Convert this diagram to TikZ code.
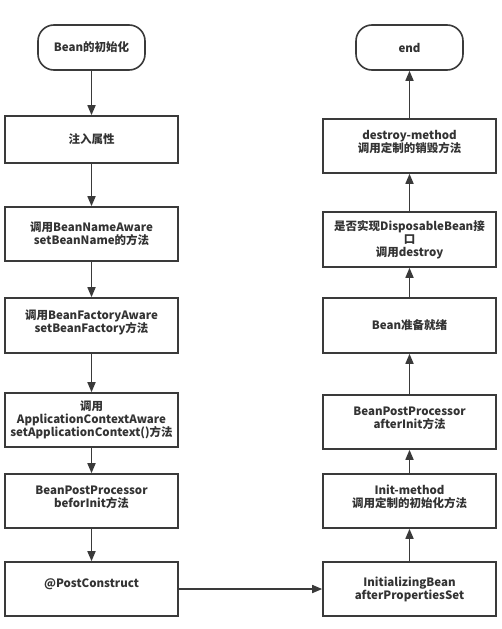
\documentclass[tikz,border=0pt]{standalone}
\usepackage{fontspec}
\setmainfont{Noto Sans CJK SC}
\usetikzlibrary{arrows.meta}
\definecolor{linec}{HTML}{3A3A3A}
\definecolor{textc}{HTML}{333333}
\begin{document}
\begin{tikzpicture}[x=1pt,y=-1pt,
  box/.style={draw=linec, line width=1.6pt, minimum width=173pt, minimum height=54pt,
    align=center, text=textc, font=\fontsize{11.5}{13}\selectfont\bfseries, inner sep=0pt},
  term/.style={box, minimum width=107pt, minimum height=45pt, rounded corners=16pt},
  flow/.style={draw=linec, line width=1.6pt, -{Triangle[length=10pt,width=8pt]}}]
\useasboundingbox[fill=white] (0,0) rectangle (501,629);
% left column
\node[term] (start) at (91.5,47.5) {Bean的初始化};
\node[box, minimum height=47pt] (b1) at (91.5,139.5) {注入属性};
\node[box] (b2) at (91.5,234) {调用BeanNameAware\\setBeanName的方法};
\node[box, minimum height=55pt] (b3) at (91.5,325.5) {调用BeanFactoryAware\\setBeanFactory方法\\[-4pt]};
\node[box] (b4) at (91.5,420) {调用\\ApplicationContextAware\\setApplicationContext()方法};
\node[box] (b5) at (91.5,501) {BeanPostProcessor\\beforInit方法\\[-4pt]};
\node[box] (b6) at (91.5,589) {@PostConstruct\\[-2pt]};
% right column
\node[term] (end) at (409.5,47.5) {end};
\node[box] (r1) at (409.5,146) {destroy-method\\调用定制的销毁方法\\[-4pt]};
\node[box, minimum height=55pt] (r2) at (409.5,239.5) {是否实现DisposableBean接\\口\\调用destroy};
\node[box, minimum height=55pt] (r3) at (409.5,325.5) {Bean准备就绪};
\node[box] (r4) at (409.5,422) {BeanPostProcessor\\afterInit方法\\[-4pt]};
\node[box] (r5) at (409.5,501) {Init-method\\调用定制的初始化方法\\[-4pt]};
\node[box] (r6) at (409.5,589) {InitializingBean\\afterPropertiesSet};
% connectors
\draw[flow] (start) -- (b1);
\draw[flow] (b1) -- (b2);
\draw[flow] (b2) -- (b3);
\draw[flow] (b3) -- (b4);
\draw[flow] (b4) -- (b5);
\draw[flow] (b5) -- (b6);
\draw[flow] (b6) -- (r6);
\draw[flow] (r6) -- (r5);
\draw[flow] (r5) -- (r4);
\draw[flow] (r4) -- (r3);
\draw[flow] (r3) -- (r2);
\draw[flow] (r2) -- (r1);
\draw[flow] (r1) -- (end);
\end{tikzpicture}
\end{document}
